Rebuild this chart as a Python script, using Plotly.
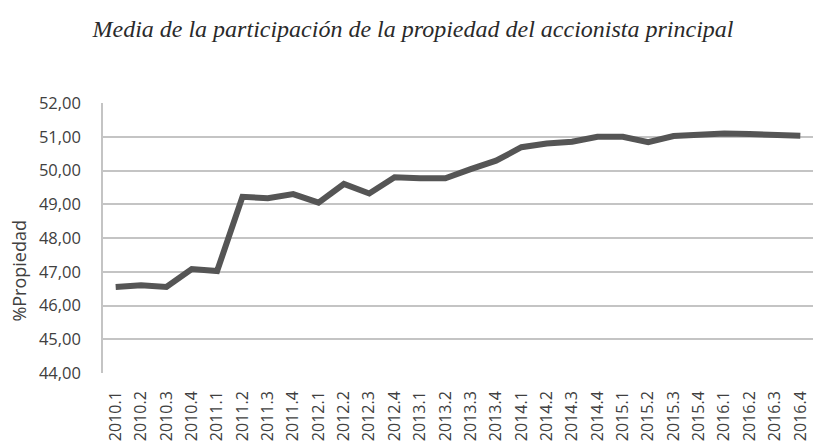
import plotly.graph_objects as go

periods = ["2010.1","2010.2","2010.3","2010.4","2011.1","2011.2","2011.3","2011.4",
           "2012.1","2012.2","2012.3","2012.4","2013.1","2013.2","2013.3","2013.4",
           "2014.1","2014.2","2014.3","2014.4","2015.1","2015.2","2015.3","2015.4",
           "2016.1","2016.2","2016.3","2016.4"]
propiedad = [46.55, 46.60, 46.55, 47.08, 47.02, 49.22, 49.18, 49.30,
             49.05, 49.60, 49.32, 49.80, 49.77, 49.77, 50.04, 50.29,
             50.69, 50.80, 50.85, 51.00, 51.00, 50.84, 51.02, 51.07,
             51.10, 51.08, 51.07, 51.03]
y_ticks = [44, 45, 46, 47, 48, 49, 50, 51, 52]

title_text = "Media de la participación de la propiedad del accionista principal"
y_title = "%Propiedad"

fig = go.Figure()
fig.add_trace(go.Scatter(
    x=list(range(len(periods))), y=propiedad, mode="lines",
    line=dict(color="#555555", width=6),
    cliponaxis=False, showlegend=False,
))

fig.update_layout(
    width=813, height=445,
    margin=dict(l=103, r=0, t=103, b=72, autoexpand=False),
    paper_bgcolor="white", plot_bgcolor="white",
    separators=",.",
    title=dict(text=title_text, x=0.508, xanchor="center", y=0.935, yanchor="middle",
               font=dict(family="Liberation Serif", size=24, color="#2a2a2a", style="italic")),
    font=dict(family="Open Sans, Liberation Sans", color="#404040"),
    annotations=[dict(text=y_title, xref="paper", yref="paper", x=-0.118, y=0.38,
                      xanchor="center", yanchor="middle", textangle=-90, showarrow=False,
                      font=dict(size=18, color="#404040"))],
)
fig.update_xaxes(
    range=[-0.5, 27.5], tickmode="array",
    tickvals=list(range(len(periods))), ticktext=periods,
    tickangle=-90, tickfont=dict(size=16, color="#404040"),
    showgrid=False, zeroline=False, showline=False, ticks="", automargin=False,
    ticklabelstandoff=14, ticklabeloverflow="allow",
)
fig.update_yaxes(
    range=[44, 52], tickmode="array", tickvals=y_ticks, tickformat=".2f",
    tickfont=dict(size=16.5, color="#404040"),
    showgrid=True, gridcolor="#c4c4c4", gridwidth=1.5,
    showline=True, linecolor="#c4c4c4", linewidth=1.5,
    zeroline=False, ticks="", ticklabelstandoff=17, automargin=False,
)
fig.write_html("out.html", config={"displayModeBar": False},
               post_script="document.body.style.margin='0';document.body.style.overflow='hidden';")
